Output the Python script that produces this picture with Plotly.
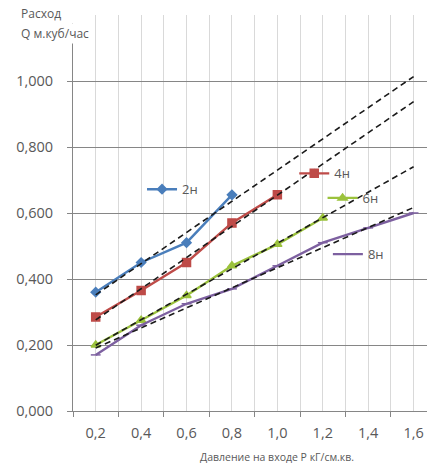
import numpy as np
import plotly.graph_objects as go

# ---- data ----
x_labels = ["0,2", "0,4", "0,6", "0,8", "1,0", "1,2", "1,4", "1,6"]
x_values = [0.2, 0.4, 0.6, 0.8, 1.0, 1.2, 1.4, 1.6]
y_ticks = [0.0, 0.2, 0.4, 0.6, 0.8, 1.0, 1.2]
y_tick_labels = ["0,000", "0,200", "0,400", "0,600", "0,800", "1,000", ""]

names = ["2н", "4н", "6н", "8н"]
q_2n = [0.36, 0.45, 0.51, 0.655]
q_4n = [0.285, 0.365, 0.45, 0.57, 0.655]
q_6n = [0.20, 0.275, 0.35, 0.44, 0.505, 0.585]
q_8n = [0.17, 0.26, 0.325, 0.37, 0.44, 0.51, 0.555, 0.60]
trend_end = 1.6

series = [q_2n, q_4n, q_6n, q_8n]
colors = ["#4A7EBB", "#BE4B48", "#9BC23C", "#7D60A0"]
symbols = ["diamond", "square", "triangle-up", "line-ew"]
msizes = [7, 8, 8, 7]

fig = go.Figure()
legend_ids = ["legend", "legend2", "legend3", "legend4"]
for name, ys, c, s, ms, lg in zip(names, series, colors, symbols, msizes, legend_ids):
    xs = x_values[:len(ys)]
    fig.add_trace(go.Scatter(
        x=xs, y=ys, name=name, mode="lines+markers",
        line=dict(color=c, width=2.4),
        marker=dict(symbol=s, size=ms, color=c, line=dict(color=c, width=1.5)),
        legend=lg, showlegend=True,
    ))

for ys in series:
    xs = x_values[:len(ys)]
    k, b = np.polyfit(xs, ys, 1)
    tx = [xs[0], trend_end]
    fig.add_trace(go.Scatter(
        x=tx, y=[k * v + b for v in tx], mode="lines",
        line=dict(color="#1a1a1a", width=1.6, dash="6px,4px"),
        showlegend=False, hoverinfo="skip",
    ))

grey = "#595959"
font = dict(family="Open Sans", size=12, color=grey)

def lg(xp, yp):
    return dict(x=xp, y=yp, xanchor="left", yanchor="middle",
                bgcolor="rgba(0,0,0,0)", font=dict(family="Open Sans", size=13, color=grey),
                itemwidth=30, borderwidth=0)

fig.update_layout(
    width=427, height=466,
    margin=dict(l=73, r=0, t=15, b=55),
    paper_bgcolor="white", plot_bgcolor="white",
    font=font,
    legend=lg(0.195, 0.56),
    legend2=lg(0.625, 0.60),
    legend3=lg(0.705, 0.538),
    legend4=lg(0.72, 0.396),
    xaxis=dict(
        range=[0.1, 1.659], tickmode="array", tickvals=x_values, ticktext=x_labels,
        showgrid=True, gridcolor="#D9D9D9", gridwidth=1, ticks="",
        showline=True, linecolor="#868686", linewidth=1,
        ticklabelstandoff=9, zeroline=False,
        tickfont=dict(family="Open Sans", size=14.5, color=grey),
        minor=dict(tick0=0.1, dtick=0.2, ticks="outside", ticklen=5,
                   tickcolor="#868686", showgrid=True, gridcolor="#D9D9D9", gridwidth=1),
    ),
    yaxis=dict(
        range=[0, 1.2], tickmode="array", tickvals=y_ticks, ticktext=y_tick_labels,
        showgrid=True, gridcolor="#868686", gridwidth=1,
        ticks="outside", ticklen=5, tickcolor="#868686",
        showline=True, linecolor="#868686", linewidth=1,
        ticklabelstandoff=11, zeroline=False,
        tickfont=dict(family="Open Sans", size=14.5, color=grey),
    ),
    annotations=[
        dict(text="Расход", xref="paper", yref="paper",
             x=-0.153, y=1.0, yshift=2, xanchor="left", yanchor="middle",
             width=72, align="left",
             showarrow=False, bgcolor="white",
             font=dict(family="Open Sans", size=12, color=grey)),
        dict(text="Q м.куб/час", xref="paper", yref="paper",
             x=-0.153, y=1.0, yshift=-18, xanchor="left", yanchor="middle",
             showarrow=False, bgcolor="white",
             font=dict(family="Open Sans", size=12, color=grey)),
        dict(text="Давление на входе Р кГ/см.кв.", xref="paper", yref="paper",
             x=0.576, y=0, yshift=-46, xanchor="center", yanchor="middle",
             showarrow=False, font=dict(family="Open Sans", size=10.5, color=grey)),
    ],
)

fig.write_html("out.html", config={"displayModeBar": False},
               post_script="document.body.style.margin='0';document.body.style.overflow='hidden';")
